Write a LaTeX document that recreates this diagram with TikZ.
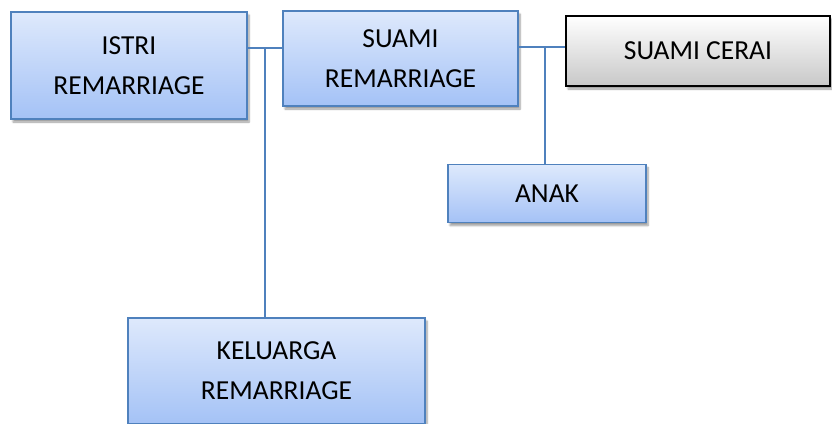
\documentclass[tikz,border=0pt]{standalone}
\usepackage{fontspec}
\setmainfont{Carlito}
\usetikzlibrary{shadows.blur}
\definecolor{boxline}{RGB}{79,129,189}
\definecolor{boxtop}{RGB}{222,233,252}
\definecolor{boxbot}{RGB}{164,194,246}
\definecolor{greybot}{RGB}{200,200,200}
\tikzset{
  base/.style={align=center, inner sep=0pt, line width=1.3pt,
    font=\fontsize{27.5}{40}\selectfont,
    blur shadow={shadow xshift=2pt, shadow yshift=-3pt, shadow blur steps=6, shadow opacity=40}},
  bluebox/.style={base, draw=boxline, top color=boxtop, bottom color=boxbot},
  greybox/.style={base, draw=black, top color=white, bottom color=greybot},
  link/.style={draw=boxline, line width=1.5pt}
}
\begin{document}
\begin{tikzpicture}[x=1pt, y=-1pt]
  \useasboundingbox (0,0) rectangle (832,423);
  % family members
  \node[bluebox, minimum width=236pt, minimum height=107pt] (istri) at (129,65.5) {ISTRI\\REMARRIAGE};
  \node[bluebox, minimum width=235pt, minimum height=95pt] (suami) at (400.5,58.5) {SUAMI\\REMARRIAGE};
  \node[greybox, minimum width=264pt, minimum height=70pt] (cerai) at (698,51) {SUAMI CERAI};
  \node[bluebox, minimum width=198pt, minimum height=58pt] (anak) at (547,193.5) {ANAK};
  \node[bluebox, minimum width=297pt, minimum height=106pt] (kel) at (276.5,371) {KELUARGA\\REMARRIAGE};
  % junction points on the marriage lines
  \coordinate (j1) at (265,48);
  \coordinate (j2) at (545,47);
  % connectors
  \draw[link] (j1 -| istri.east) -- (j1 -| suami.west);
  \draw[link] (j1) -- (j1 |- kel.north);
  \draw[link] (j2 -| suami.east) -- (j2 -| cerai.west);
  \draw[link] (j2) -- (j2 |- anak.north);
\end{tikzpicture}
\end{document}
